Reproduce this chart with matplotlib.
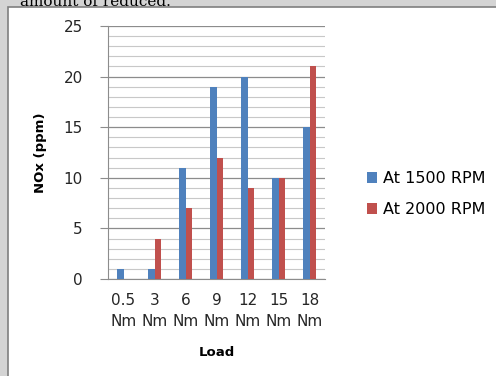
import numpy as np
import matplotlib.pyplot as plt
from matplotlib.patches import Rectangle

# === Data ===
loads = ["0.5\nNm", "3\nNm", "6\nNm", "9\nNm", "12\nNm", "15\nNm", "18\nNm"]
rpm_1500 = [1, 1, 11, 19, 20, 10, 15]
rpm_2000 = [0, 4, 7, 12, 9, 10, 21]

blue = "#4F81BD"
red = "#C0504D"

fig = plt.figure(figsize=(4.96, 3.76), dpi=100)
fig.patch.set_facecolor("#d4d4d4")

# cut-off caption from the page above the chart
fig.text(0.04, 0.975, "amount of reduced.", fontsize=11, family="DejaVu Serif",
         va="bottom", ha="left", zorder=0)
# white chart area with dark edge
fig.patches.append(Rectangle((8 / 496, -0.05), 1.2, 1 - 6.5 / 376 + 0.05,
                             transform=fig.transFigure, facecolor="white",
                             edgecolor="#7f7f7f", linewidth=1.2, zorder=1))

ax = fig.add_axes([108 / 496, 97 / 376, 217 / 496, 253 / 376])
ax.set_facecolor("none")
ax.set_zorder(2)

x = np.arange(len(loads))
w = 0.2
ax.bar(x - w / 2, rpm_1500, w, color=blue, label="At 1500 RPM", zorder=3)
ax.bar(x + w / 2, rpm_2000, w, color=red, label="At 2000 RPM", zorder=3)

ax.set_xlim(-0.5, len(loads) - 0.5)
ax.set_ylim(0, 25)
ax.set_yticks([0, 5, 10, 15, 20, 25])
ax.set_yticks(np.arange(0, 26, 1), minor=True)
ax.grid(True, which="major", axis="y", color="#8c8c8c", linewidth=0.9, zorder=0)
ax.grid(True, which="minor", axis="y", color="#c8c8c8", linewidth=0.8, zorder=0)
ax.tick_params(axis="y", which="major", length=6, color="#8c8c8c", labelsize=11,
               pad=12, labelcolor="#262626")
ax.tick_params(axis="y", which="minor", length=0)
ax.set_xticks(x)
ax.set_xticklabels(loads, fontsize=11, linespacing=1.55)
ax.tick_params(axis="x", length=0, pad=10, labelcolor="#262626")

for s in ["top", "right"]:
    ax.spines[s].set_visible(False)
ax.spines["left"].set_color("#8c8c8c")
ax.spines["bottom"].set_color("#8c8c8c")

ax.set_ylabel("NOx (ppm)", fontsize=9.5, fontweight="bold", labelpad=12)
ax.set_xlabel("Load", fontsize=9.5, fontweight="bold", labelpad=12)

fig.legend(loc="center left", bbox_to_anchor=(353 / 496, 1 - 194 / 376),
           frameon=False, fontsize=11.5, handlelength=0.6, handleheight=0.75,
           handletextpad=0.35, labelspacing=1.0)

fig.savefig("out.png", dpi=100, facecolor=fig.get_facecolor())
